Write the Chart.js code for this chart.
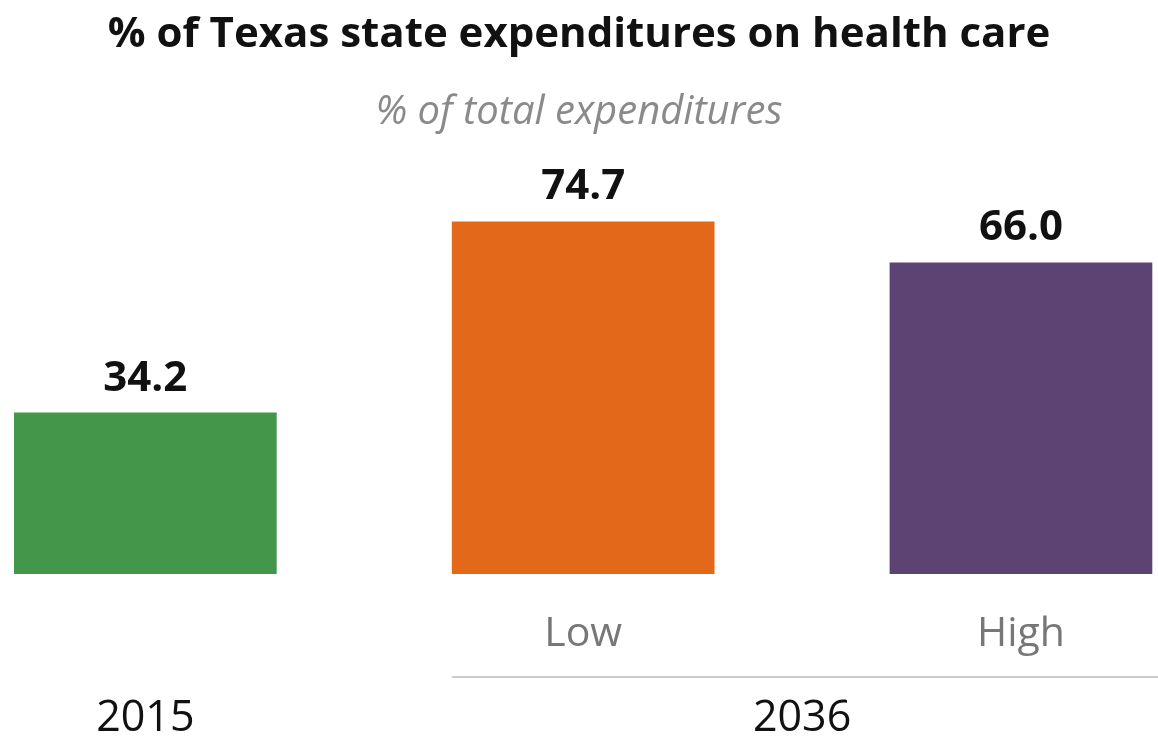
<!DOCTYPE html>
<html>
<head>
<meta charset="utf-8">
<script src="https://cdn.jsdelivr.net/npm/chart.js@4"></script>
<style>
  html, body { margin: 0; padding: 0; background: #fff; }
  #wrap { width: 1158px; height: 742px; }
</style>
</head>
<body>
<div id="wrap"><canvas id="healthChart"></canvas></div>
<script>
// values
const barPositions = [0, 1, 2];
const barValues = [34.2, 74.7, 66.0];
const barColors = ['#43964a', '#e3681a', '#5c4373'];
const subLabels = ['', 'Low', 'High'];
const groupLabels = ['2015', '2036'];
const groupPositions = [0, 1.5];

const ctx = document.getElementById('healthChart').getContext('2d');

// value labels above each bar, plus the rule under Low / High
const barLabels = {
    id: 'barLabels',
    afterDatasetsDraw(chart) {
        const c = chart.ctx;
        const meta = chart.getDatasetMeta(0);
        c.save();
        c.font = 'bold 42px "Open Sans"';
        c.fillStyle = '#111';
        c.textAlign = 'center';
        c.textBaseline = 'middle';
        meta.data.forEach((bar, i) => {
            c.fillText(barValues[i].toFixed(1), bar.x, bar.y - 34);
        });
        c.restore();
    },
    afterDraw(chart) {
        const c = chart.ctx;
        const x2 = chart.scales.x2;
        const lowBar = chart.getDatasetMeta(0).data[1];
        const y = x2.top - 18;
        c.save();
        c.strokeStyle = '#cccccc';
        c.lineWidth = 2;
        c.beginPath();
        c.moveTo(lowBar.x - lowBar.width / 2, y);
        c.lineTo(chart.chartArea.right, y);
        c.stroke();
        c.restore();
    }
};

new Chart(ctx, {
    type: 'bar',
    data: {
        datasets: [{
            data: barPositions.map((p, i) => ({ x: p, y: barValues[i] })),
            backgroundColor: barColors,
            barPercentage: 0.6,
            categoryPercentage: 1.0
        }]
    },
    options: {
        responsive: true,
        maintainAspectRatio: false,
        animation: false,
        layout: { padding: { left: 0, right: 0, top: 0, bottom: 0 } },
        plugins: {
            legend: { display: false },
            tooltip: { enabled: false },
            title: {
                display: true,
                text: '% of Texas state expenditures on health care',
                color: '#111',
                font: { family: 'Open Sans', size: 42, weight: 'bold' },
                padding: { top: 10, bottom: 10 }
            },
            subtitle: {
                display: true,
                text: '% of total expenditures',
                color: '#8a8a8a',
                font: { family: 'Open Sans', size: 40, style: 'italic' },
                padding: { top: 18, bottom: 60 }
            }
        },
        scales: {
            x: {
                type: 'linear',
                position: 'bottom',
                offset: false,
                weight: 0,
                min: -0.332,
                max: 2.313,
                grid: { display: false, drawTicks: false },
                border: { display: false },
                afterBuildTicks: axis => {
                    axis.ticks = [{ value: 1 }, { value: 2 }];
                },
                ticks: {
                    padding: 40,
                    color: '#777',
                    font: { family: 'Open Sans', size: 41, lineHeight: 1 },
                    callback: value => subLabels[value]
                }
            },
            x2: {
                type: 'linear',
                position: 'bottom',
                offset: false,
                weight: 1,
                min: -0.332,
                max: 2.313,
                grid: { display: false, drawTicks: false },
                border: { display: false },
                afterBuildTicks: axis => {
                    axis.ticks = groupPositions.map(v => ({ value: v }));
                },
                ticks: {
                    padding: 2,
                    color: '#111',
                    font: { family: 'Open Sans', size: 43, lineHeight: 1 },
                    callback: value => groupLabels[groupPositions.indexOf(value)]
                }
            },
            y: {
                display: false,
                min: 0,
                max: 80
            }
        }
    },
    plugins: [barLabels]
});
</script>
</body>
</html>
